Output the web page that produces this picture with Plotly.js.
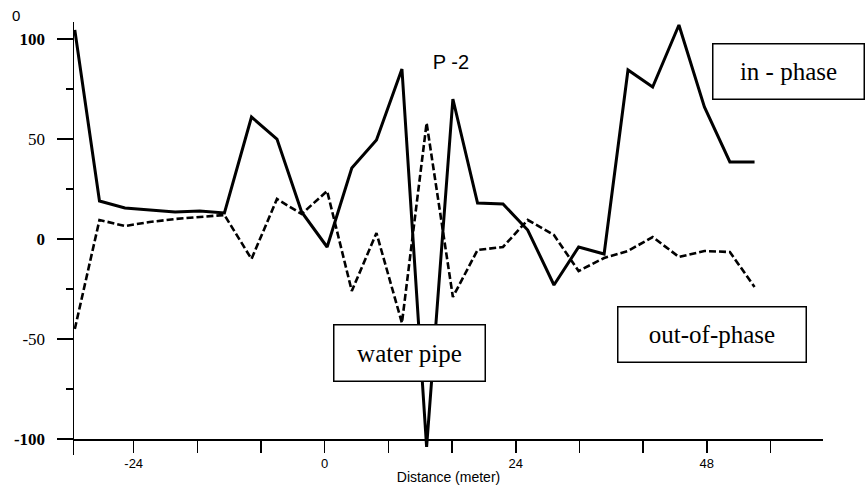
<!DOCTYPE html>
<html>
<head>
<meta charset="utf-8">
<script src="https://cdn.plot.ly/plotly-3.0.1.min.js"></script>
<style>html,body{margin:0;padding:0;background:#fff;}#chart{width:866px;height:489px;}</style>
</head>
<body>
<div id="chart"></div>
<script>
// Distance (meter) of each reading
const distance = [-31.4, -28.3, -25.1, -22.0, -18.8, -15.7, -12.6, -9.2, -6.0, -2.9,
  0.3, 3.4, 6.5, 9.7, 12.8, 16.1, 19.2, 22.4, 25.5, 28.8,
  31.9, 35.1, 38.1, 41.2, 44.5, 47.7, 50.9, 54.0];
// in-phase component
const inPhase = [104.5, 19, 15.5, 14.5, 13.5, 14, 13, 61, 50, 13.5,
  -4, 35.5, 49.5, 85, -104, 70, 18, 17.5, 4.5, -23,
  -4, -7.5, 84.5, 76, 107, 66, 38.5, 38.5];
// out-of-phase component
const outPhase = [-45, 9.5, 6.5, 8.5, 10, 11, 12, -10, 20, 12.5,
  24, -26, 3, -42, 58, -29, -5.5, -4, 9.5, 2,
  -16, -9.5, -6, 1, -9, -6, -6.5, -24];

const xTickVals = [-24, -16, -8, 0, 8, 16, 24, 32, 40, 48, 56];
const xTickText = ['-24', '', '', '0', '', '', '24', '', '', '48', ''];
const yTickVals = [-100, -50, 0, 50, 100];
const yTickText = ['<b>-100</b>', '-50', '<b>0</b>', '50', '<b>100</b>'];
const yMinorVals = [-75, -25, 25, 75];

const traces = [
  {x: distance, y: inPhase, type: 'scatter', mode: 'lines', name: 'in - phase',
   line: {color: '#000', width: 3}},
  {x: distance, y: outPhase, type: 'scatter', mode: 'lines', name: 'out-of-phase',
   line: {color: '#000', width: 2.6, dash: '7px,3px'}}
];

const serif = 'Liberation Serif, Times New Roman, serif';
const sans = 'Liberation Sans, Arial, sans-serif';

const layout = {
  width: 866, height: 489,
  margin: {l: 74, r: 43, t: 22, b: 34},
  paper_bgcolor: '#fff', plot_bgcolor: '#fff',
  showlegend: false,
  title: {text: 'P -2', x: 451/866, y: 1 - 61.5/489, xref: 'container', yref: 'container',
          xanchor: 'center', yanchor: 'middle', font: {family: sans, size: 20, color: '#000'}},
  xaxis: {
    range: [-31.5, 62.6], anchor: 'free', position: 8/216.5,
    showline: true, linecolor: '#000', linewidth: 1.5,
    showgrid: false, zeroline: false,
    tickmode: 'array', tickvals: xTickVals, ticktext: xTickText,
    ticks: 'outside', ticklen: 12, tickwidth: 1.5, tickcolor: '#000',
    tickfont: {family: sans, size: 13, color: '#000'},
    title: {text: 'Distance (meter)', font: {family: sans, size: 14, color: '#000'}, standoff: 2}
  },
  yaxis: {
    range: [-108, 108.5],
    showline: true, linecolor: '#000', linewidth: 1.5,
    showgrid: false, zeroline: false,
    tickmode: 'array', tickvals: yTickVals, ticktext: yTickText,
    ticks: 'outside', ticklen: 16, tickwidth: 1.5, tickcolor: '#000',
    ticklabelstandoff: 8,
    tickfont: {family: serif, size: 17, color: '#000'},
    minor: {tickvals: yMinorVals, ticks: 'outside', ticklen: 7, tickwidth: 1.5, tickcolor: '#000', showgrid: false}
  },
  annotations: [
    {text: 'in - phase', xref: 'paper', yref: 'paper', x: 714.5/749, y: 383.5/433,
     xanchor: 'center', yanchor: 'middle', showarrow: false,
     width: 150, height: 54, borderpad: 0, bordercolor: '#000', borderwidth: 1.5, bgcolor: '#fff',
     font: {family: serif, size: 25, color: '#000'}},
    {text: 'water pipe', xref: 'paper', yref: 'paper', x: 335.5/749, y: 102/433,
     xanchor: 'center', yanchor: 'middle', showarrow: false,
     width: 150, height: 55, borderpad: 0, bordercolor: '#000', borderwidth: 1.5, bgcolor: '#fff',
     font: {family: serif, size: 25, color: '#000'}},
    {text: 'out-of-phase', xref: 'paper', yref: 'paper', x: 638/749, y: 120.5/433,
     xanchor: 'center', yanchor: 'middle', showarrow: false,
     width: 187, height: 54, borderpad: 0, bordercolor: '#000', borderwidth: 1.5, bgcolor: '#fff',
     font: {family: serif, size: 25, color: '#000'}},
    {text: '0', xref: 'paper', yref: 'paper', x: -58/749, y: 439.5/433,
     xanchor: 'center', yanchor: 'middle', showarrow: false,
     font: {family: sans, size: 15, color: '#000'}}
  ]
};

Plotly.newPlot('chart', traces, layout, {displayModeBar: false, staticPlot: true});
</script>
</body>
</html>
